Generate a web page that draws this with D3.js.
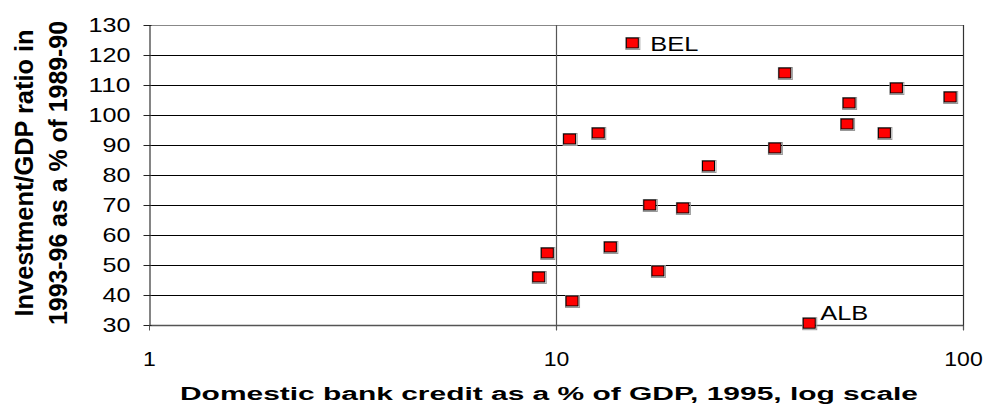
<!DOCTYPE html>
<html>
<head>
<meta charset="utf-8">
<script src="https://cdn.jsdelivr.net/npm/d3@7"></script>
<style>
  html, body { margin: 0; padding: 0; background: #fff; }
  svg { display: block; font-family: Arial, "Liberation Sans", sans-serif; }
</style>
</head>
<body>
<svg id="chart" width="989" height="408"></svg>
<script>
// Domestic bank credit (% of GDP, 1995) per country
const credit = [15.4, 36.5, 68.6, 93, 52.5, 51.9, 64.1, 10.8, 12.7, 34.5,
                23.7, 17.0, 20.5, 13.6, 9.52, 9.07, 17.8, 10.95, 41.9];
// Investment/GDP in 1993-96 as % of 1989-90
const investment = [124, 114, 109, 106, 104, 97, 94, 92, 94, 89,
                    83, 70, 69, 56, 54, 46, 48, 38, 30.6];
// Country codes shown next to selected points
const pointLabels = ["BEL", null, null, null, null, null, null, null, null, null,
                     null, null, null, null, null, null, null, null, "ALB"];
const yTicks = [30, 40, 50, 60, 70, 80, 90, 100, 110, 120, 130];
const xTicks = [1, 10, 100];

const svg = d3.select("#chart");
const plotLeft = 149, plotRight = 963, plotTop = 25, plotBottom = 325;

const x = d3.scaleLog().domain([1, 100]).range([plotLeft, plotRight]);
const y = d3.scaleLinear().domain([30, 130]).range([plotBottom, plotTop]);

// horizontal gridlines
svg.append("g").selectAll("line")
  .data(yTicks.filter(v => v !== 30 && v !== 130))
  .join("line")
  .attr("x1", plotLeft).attr("x2", plotRight)
  .attr("y1", d => Math.round(y(d)) + 0.5).attr("y2", d => Math.round(y(d)) + 0.5)
  .attr("stroke", "#000").attr("stroke-width", 1.1);

// top border and bottom baseline
svg.append("line").attr("x1", plotLeft).attr("x2", plotRight)
  .attr("y1", y(130) + 0.5).attr("y2", y(130) + 0.5)
  .attr("stroke", "#888").attr("stroke-width", 1.2);
svg.append("line").attr("x1", plotLeft).attr("x2", plotRight)
  .attr("y1", y(30) + 0.5).attr("y2", y(30) + 0.5)
  .attr("stroke", "#555").attr("stroke-width", 1.3);

// vertical gridline at 10 and right border
svg.append("line").attr("x1", x(10) + 0.5).attr("x2", x(10) + 0.5)
  .attr("y1", plotTop).attr("y2", plotBottom + 5)
  .attr("stroke", "#555").attr("stroke-width", 1.2);
svg.append("line").attr("x1", x(100) + 0.5).attr("x2", x(100) + 0.5)
  .attr("y1", plotTop).attr("y2", plotBottom + 5)
  .attr("stroke", "#333").attr("stroke-width", 1.2);

// y axis
const yAxis = svg.append("g")
  .attr("transform", `translate(${plotLeft + 0.5},0)`)
  .call(d3.axisLeft(y).tickValues(yTicks).tickSize(6).tickSizeOuter(0).tickPadding(13));
yAxis.select(".domain").attr("stroke", "#666").attr("stroke-width", 1.6);
yAxis.selectAll(".tick line").attr("stroke", "#222").attr("x2", -6).attr("x1", 2);
yAxis.selectAll(".tick text")
  .attr("font-size", 21).attr("fill", "#000")
  .attr("font-family", "Arial, 'Liberation Sans', sans-serif")
  .attr("textLength", d => String(d).length * 14)
  .attr("lengthAdjust", "spacingAndGlyphs");

// x axis
const xAxis = svg.append("g")
  .attr("transform", `translate(0,${plotBottom + 0.5})`)
  .call(d3.axisBottom(x).tickValues(xTicks).tickFormat(d3.format("d"))
        .tickSize(5).tickSizeOuter(0).tickPadding(21));
xAxis.select(".domain").remove();
xAxis.selectAll(".tick line").attr("stroke", "#555");
xAxis.selectAll(".tick text")
  .attr("font-size", 20).attr("fill", "#000")
  .attr("font-family", "Arial, 'Liberation Sans', sans-serif")
  .attr("textLength", d => String(d).length * 12.8)
  .attr("lengthAdjust", "spacingAndGlyphs");

// points
const pts = credit.map((c, i) => ({ c, v: investment[i], label: pointLabels[i] }));
const mw = 12, mh = 10;
const g = svg.append("g");
g.selectAll("rect.halo").data(pts).join("rect").attr("class", "halo")
  .attr("x", d => x(d.c) - mw / 2 - 0.5).attr("y", d => y(d.v) - mh / 2 - 0.5)
  .attr("width", mw + 2).attr("height", mh + 2)
  .attr("fill", "none").attr("stroke", "#999").attr("stroke-width", 1);
g.selectAll("rect.mark").data(pts).join("rect").attr("class", "mark")
  .attr("x", d => x(d.c) - mw / 2).attr("y", d => y(d.v) - mh / 2)
  .attr("width", mw).attr("height", mh)
  .attr("fill", "#ff0000").attr("stroke", "#000").attr("stroke-width", 1);

// country labels
const labelOffset = { BEL: [18, 8], ALB: [11, -3] };
svg.append("g").selectAll("text")
  .data(pts.filter(d => d.label))
  .join("text")
  .attr("x", d => x(d.c) + labelOffset[d.label][0])
  .attr("y", d => y(d.v) + labelOffset[d.label][1])
  .attr("font-size", 21).attr("fill", "#000")
  .attr("textLength", 48).attr("lengthAdjust", "spacingAndGlyphs")
  .text(d => d.label);

// axis titles
svg.append("text")
  .attr("x", 180).attr("y", 400)
  .attr("font-size", 18).attr("font-weight", "bold").attr("fill", "#000")
  .attr("textLength", 738).attr("lengthAdjust", "spacingAndGlyphs")
  .text("Domestic bank credit as a % of GDP, 1995, log scale");

const yt = svg.append("g").attr("transform", "translate(0,173) rotate(-90)");
yt.append("text")
  .attr("x", 0).attr("y", 33).attr("text-anchor", "middle")
  .attr("font-size", 25).attr("font-weight", "bold").attr("fill", "#000")
  .attr("textLength", 287).attr("lengthAdjust", "spacingAndGlyphs")
  .text("Investment/GDP ratio in");
yt.append("text")
  .attr("x", 0).attr("y", 67).attr("text-anchor", "middle")
  .attr("font-size", 25).attr("font-weight", "bold").attr("fill", "#000")
  .attr("textLength", 304).attr("lengthAdjust", "spacingAndGlyphs")
  .text("1993-96 as a % of 1989-90");
</script>
</body>
</html>
